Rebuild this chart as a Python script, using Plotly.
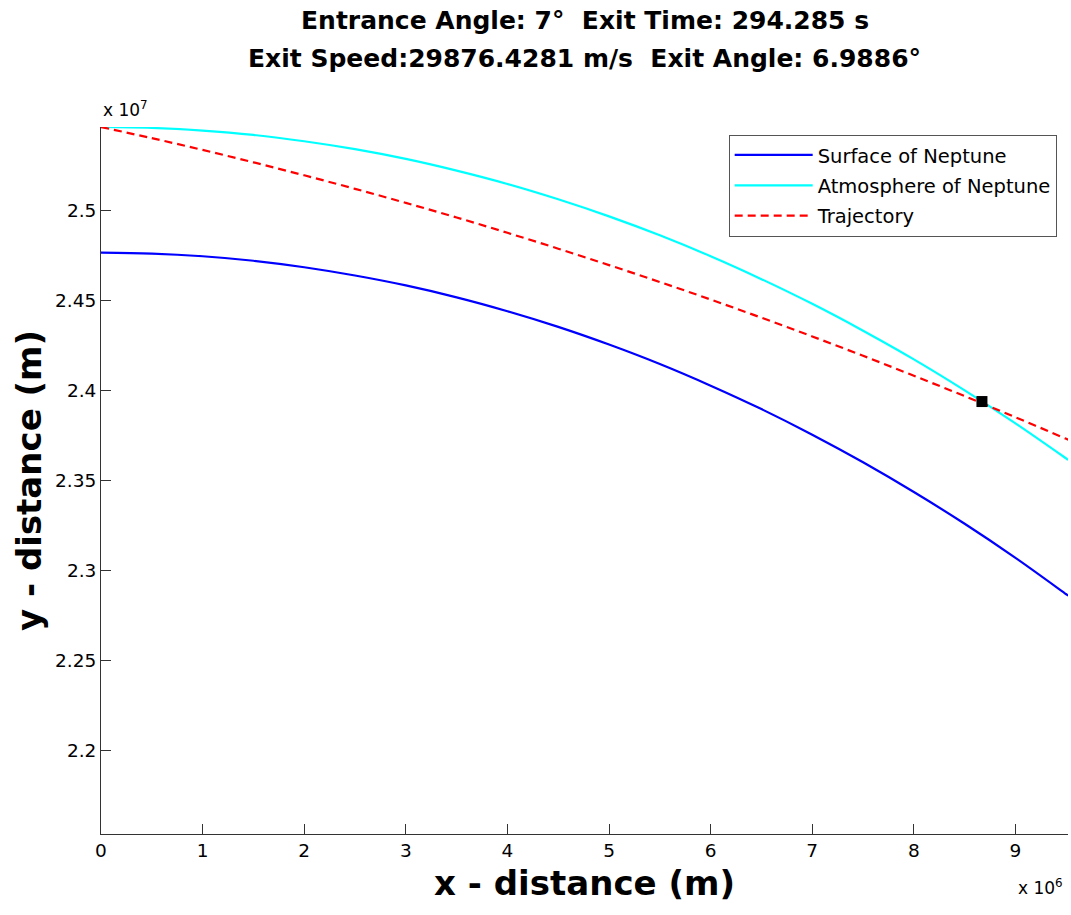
import plotly.graph_objects as go

# x positions in units of 10^6 m
x_vals = [0, 0.5, 1, 1.5, 2, 2.5, 3, 3.5, 4, 4.5, 5, 5.5, 6, 6.5, 7, 7.5, 8, 8.5, 9, 9.5, 9.52]
# y values in units of 10^7 m
surface_y = [2.4764, 2.4759, 2.4744, 2.4719, 2.4683, 2.4637, 2.4582, 2.4516, 2.4439, 2.4352,
             2.4254, 2.4146, 2.4026, 2.3896, 2.3754, 2.3601, 2.3436, 2.3260, 2.3071, 2.2869, 2.2861]
atmosphere_y = [2.5461, 2.5456, 2.5441, 2.5417, 2.5382, 2.5338, 2.5284, 2.5219, 2.5145, 2.5060,
                2.4965, 2.4860, 2.4744, 2.4617, 2.4480, 2.4331, 2.4172, 2.4000, 2.3817, 2.3622, 2.3614]
trajectory_y = [2.5461, 2.5399, 2.5334, 2.5265, 2.5193, 2.5118, 2.5040, 2.4959, 2.4874, 2.4786,
                2.4695, 2.4601, 2.4504, 2.4403, 2.4299, 2.4192, 2.4081, 2.3968, 2.3851, 2.3731, 2.3726]
exit_x = [8.67]
exit_y = [2.3938]

x_ticks = [0, 1, 2, 3, 4, 5, 6, 7, 8, 9]
y_ticks = [2.2, 2.25, 2.3, 2.35, 2.4, 2.45, 2.5]
y_ticktext = ["2.2", "2.25", "2.3", "2.35", "2.4", "2.45", "2.5"]

title_line1 = "Entrance Angle: 7°  Exit Time: 294.285 s"
title_line2 = "Exit Speed:29876.4281 m/s  Exit Angle: 6.9886°"

FONT = "DejaVu Sans, Verdana, sans-serif"

fig = go.Figure()
fig.add_trace(go.Scatter(x=x_vals, y=surface_y, mode="lines", name="Surface of Neptune",
                         legendgroup="a",
                         line=dict(color="#0000FF", width=2.2, shape="spline")))
fig.add_trace(go.Scatter(x=x_vals, y=atmosphere_y, mode="lines", name="Atmosphere of Neptune",
                         legendgroup="b",
                         line=dict(color="#00FFFF", width=2.2, shape="spline")))
fig.add_trace(go.Scatter(x=x_vals, y=trajectory_y, mode="lines", name="Trajectory",
                         legendgroup="c",
                         line=dict(color="#FF0000", width=2.2, dash="8px,5px", shape="spline")))
fig.add_trace(go.Scatter(x=exit_x, y=exit_y, mode="markers", showlegend=False,
                         marker=dict(symbol="square", size=11, color="black")))

fig.update_layout(
    width=1071, height=915,
    paper_bgcolor="white", plot_bgcolor="white",
    margin=dict(l=101, r=3, t=127, b=81),
    font=dict(family=FONT, size=18, color="black"),
    showlegend=True,
    legend=dict(x=0.9883, xanchor="right", y=0.989, yanchor="top",
                bgcolor="white", bordercolor="#555555", borderwidth=1,
                font=dict(family=FONT, size=19.5, color="black"),
                itemwidth=78, tracegroupgap=2),
    xaxis=dict(range=[0, 9.517], tickvals=x_ticks, ticktext=[str(t) for t in x_ticks],
               ticks="inside", ticklen=10, tickcolor="#333333", showline=True, linecolor="#333333",
               linewidth=1, showgrid=False, zeroline=False, mirror=False,
               tickfont=dict(size=18.5),
               title=dict(text="<b>x - distance (m)</b>", font=dict(size=34), standoff=10)),
    yaxis=dict(range=[2.1539, 2.5461], tickvals=y_ticks, ticktext=y_ticktext,
               ticks="inside", ticklen=10, tickcolor="#333333", showline=True, linecolor="#333333",
               linewidth=1, showgrid=False, zeroline=False, mirror=False,
               tickfont=dict(size=18.5),
               title=dict(text="<b>y - distance (m)</b>", font=dict(size=34), standoff=3)),
    annotations=[
        dict(text="<b>" + title_line1 + "</b>", xref="paper", yref="paper", x=0.5, y=1,
             xanchor="center", yanchor="middle", yshift=127 - 20, showarrow=False,
             font=dict(size=25)),
        dict(text="<b>" + title_line2 + "</b>", xref="paper", yref="paper", x=0.5, y=1,
             xanchor="center", yanchor="middle", yshift=127 - 58, showarrow=False,
             font=dict(size=25)),
        dict(text="x 10<sup>7</sup>", xref="paper", yref="paper", x=0, y=1, xanchor="left",
             yanchor="bottom", yshift=5, showarrow=False, font=dict(size=17)),
        dict(text="x 10<sup>6</sup>", xref="paper", yref="paper", x=1, y=0, xanchor="right",
             yanchor="top", yshift=-40, xshift=-3, showarrow=False, font=dict(size=17)),
    ],
)

fig.write_html("out.html")
